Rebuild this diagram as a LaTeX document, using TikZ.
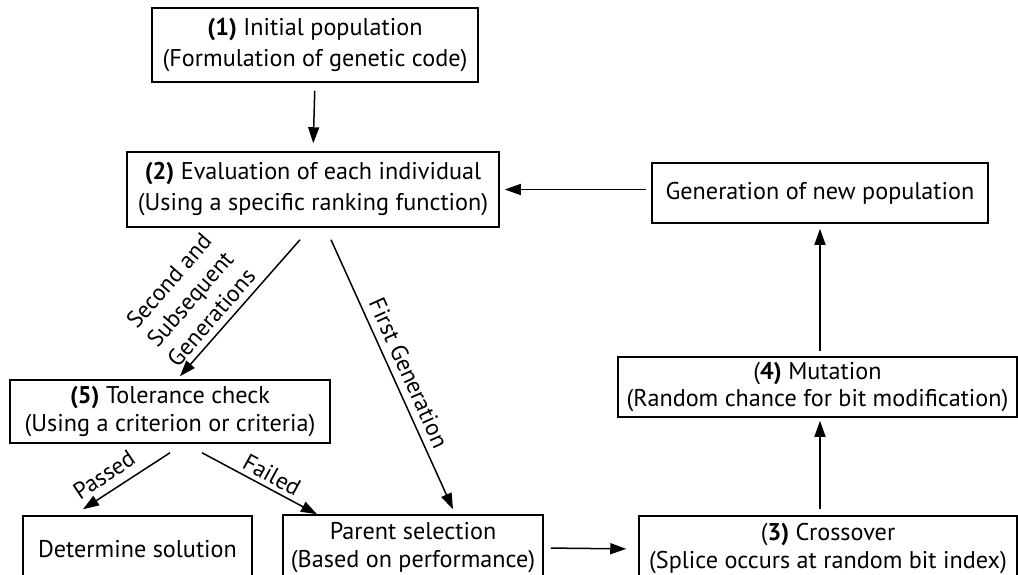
\documentclass[tikz,border=0pt]{standalone}
\usepackage{fontspec}
\setmainfont{PT Sans}
\usetikzlibrary{arrows.meta}

\begin{document}
\begin{tikzpicture}[x = 1pt, y = -1pt, font = \fontsize{24.2}{31}\selectfont,
    every node/.style = {align = center, inner sep = 0pt},
    box/.style = {draw = black, line width = 1.5pt},
    arr/.style = {line width = 1.5pt, -{Triangle[length = 16pt, width = 11pt]}},
    lbl/.style = {font = \fontsize{23.5}{28}\selectfont}]
    \useasboundingbox (0, 0) rectangle (1018, 575);
    \node (A) at (315, 45) [box, minimum width = 326pt, minimum height = 74pt] {\textbf{(1)} Initial population\\(Formulation of genetic code)};
    \node (B) at (313, 189.5) [box, minimum width = 372pt, minimum height = 75pt] {\textbf{(2)} Evaluation of each individual\\(Using a specific ranking function)};
    \node (C) at (820, 193) [box, minimum width = 336pt, minimum height = 60pt] {Generation of new population};
    \node (D) at (817.5, 387) [box, minimum width = 399pt, minimum height = 60pt] {(\textbf{4)} Mutation\\[-4pt](Random chance for bit modification)};
    \node (E) at (170, 411.5) [box, minimum width = 320pt, minimum height = 63pt] {\textbf{(5)} Tolerance check\\[-3pt](Using a criterion or criteria)};
    \node (F) at (137.5, 549) [box, minimum width = 229pt, minimum height = 66pt] {Determine solution};
    \node (G) at (413, 548) [box, minimum width = 260pt, minimum height = 66pt] {Parent selection\\[-3pt](Based on performance)};
    \node (H) at (828, 549) [box, minimum width = 378pt, minimum height = 66pt] {(\textbf{3)} Crossover\\[-3pt](Splice occurs at random bit index)};

    \draw[arr, shorten <= 8pt, shorten >= 8pt] (A.south) -- (B.north);
    \draw[arr] ([xshift = -13pt, yshift = -12pt]B.south) -- ([xshift = 10pt, yshift = 3pt]E.north);
    \draw[arr] ([xshift = 18pt, yshift = -12pt]B.south) -- ([xshift = 40pt, yshift = 5pt]G.north);
    \draw[arr, shorten <= 5pt, shorten >= 5pt] (C.west |- B.east) -- (B.east);
    \draw[arr, shorten <= 5pt, shorten >= 5pt] (D.north -| C.south) -- (C.south);
    \draw[arr, shorten <= 6pt, shorten >= 3pt] (H.north -| C.south) -- (D.south -| C.south);
    \draw[arr] ([yshift = -9pt]E.south) -- ([xshift = -54.5pt, yshift = 6pt]F.north);
    \draw[arr] ([xshift = 32pt, yshift = -9pt]E.south) -- ([xshift = -96pt, yshift = 0pt]G.north);
    \draw[arr, shorten <= 7pt, shorten >= 12pt] (G.east) -- (H.west);

    \node (L1) at (190, 299) [lbl, rotate = 49] {Second and\\Subsequent\\Generations};
    \node (L2) at (409, 373) [lbl, rotate = -65.8] {First Generation};
    \node (L3) at (104, 475) [lbl, rotate = 33.7] {Passed};
    \node (L4) at (272, 475) [lbl, rotate = -28.7] {Failed};
\end{tikzpicture}
\end{document}
